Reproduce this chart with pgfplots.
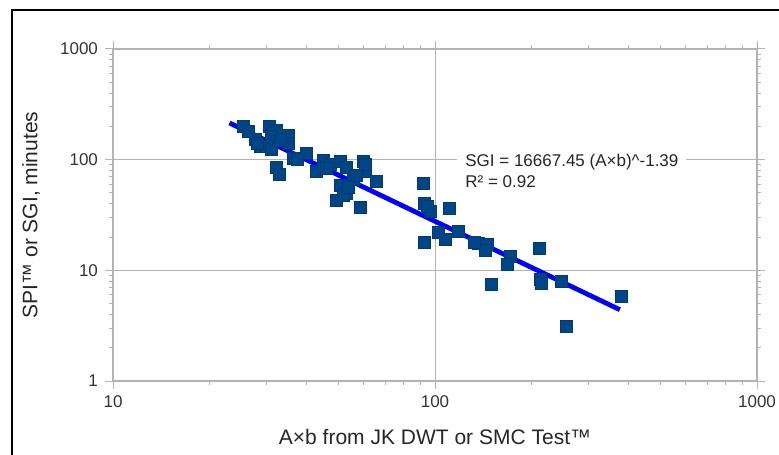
\documentclass[border=0pt]{standalone}
\usepackage{pgfplots}
\pgfplotsset{compat=1.18}
\usepackage{fontspec}
\setmainfont{Liberation Sans}
\definecolor{ptBlue}{HTML}{004586}
\definecolor{gridGray}{HTML}{B3B3B3}

\begin{document}
\begin{tikzpicture}
% 1 px of the reference = 0.5pt; axis lower-left corner at px (113,381)
\path[use as bounding box] (-56.5pt,-36.5pt) rectangle (333pt,190.5pt);
\draw[black, line width=1pt] (-50.5pt,-40pt) -- (-50.5pt,185.5pt) -- (340pt,185.5pt);

\begin{axis}[
    scale only axis,
    width=322pt, height=166pt,
    at={(0,0)}, anchor=south west,
    xmode=log, ymode=log,
    xmin=10, xmax=1000, ymin=1, ymax=1000,
    xtick={10,100,1000}, ytick={1,10,100,1000},
    xticklabels={10,100,1000}, yticklabels={1,10,100,1000},
    minor xtick={20,30,40,50,60,70,80,90,200,300,400,500,600,700,800,900},
    minor ytick={2,3,4,5,6,7,8,9,20,30,40,50,60,70,80,90,200,300,400,500,600,700,800,900},
    grid=major,
    grid style={gridGray, line width=0.5pt},
    axis line style={gridGray, line width=0.6pt},
    tick style={gridGray, line width=0.5pt},
    tick align=outside,
    major tick length=4pt,
    minor tick length=2pt,
    tick label style={font=\fontsize{8.5}{10}\selectfont, text=black!80},
    /pgf/number format/assume math mode=true,
    xlabel={A×b from JK DWT or SMC Test™},
    ylabel={SPI™ or SGI, minutes},
    label style={font=\fontsize{10.5}{12}\selectfont, text=black!85},
    xlabel style={at={(axis description cs:0.5,0)}, anchor=center, yshift=-28pt},
    ylabel style={at={(axis description cs:0,0.5)}, anchor=center, yshift=41pt},
    clip=false,
]

\addplot[only marks, mark=square*, mark size=3pt,
    mark options={fill=ptBlue, draw=ptBlue!85!black, line width=0.4pt}]
coordinates {
    (25.4,200) (26.3,179) (27.6,151) (28.6,131) (30.7,200) (32.1,185)
    (31.1,161) (30.0,132) (35.0,165) (35.0,140) (32.2,86) (32.9,73)
    (36.3,103) (39.9,114) (42.9,78) (45.0,99) (47.2,90) (50.7,96)
    (53.2,86) (59.9,96) (60.6,78) (65.9,63) (50.7,59) (49.5,43)
    (58.5,37) (53.2,50) (55.8,66) (37.5,100) (31,125) (33,150) (28,140)
    (46,84) (52,48) (57,72) (61,90) (54,56)
    (92,61) (93,40.5) (96.5,34) (111,36.2) (93,17.8) (102.5,22)
    (107.5,19.2) (118,22.3) (136,17.5) (145,17) (143,15) (150,7.4)
    (171,13.5) (168,11.2) (211,15.8) (212,8.2) (214,7.7) (247,7.9)
    (256,3.1) (378,5.8) (95,38) (133,18)
};

% power trend line SGI = 16667.45 (A x b)^-1.39
\addplot[blue, line width=2.4pt] coordinates {(23,214.6) (375,4.41)};

\node[anchor=west, align=left, fill=white, inner xsep=4pt, inner ysep=1pt,
      font=\fontsize{8.5}{10.5}\selectfont, text=black!85]
    at (axis cs:117,79) {SGI = 16667.45 (A×b)\^{}-1.39\\R² = 0.92};

\end{axis}
\end{tikzpicture}
\end{document}
